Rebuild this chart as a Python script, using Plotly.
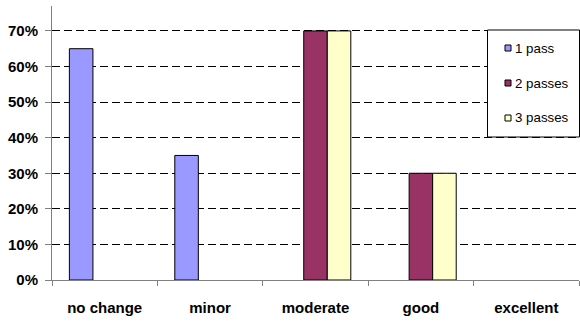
import plotly.graph_objects as go

categories = ["no change", "minor", "moderate", "good", "excellent"]
series_names = ["1 pass", "2 passes", "3 passes"]
pass1 = [0.65, 0.35, None, None, None]
pass2 = [None, None, 0.70, 0.30, None]
pass3 = [None, None, 0.70, 0.30, None]
colors = ["#9999FF", "#993366", "#FFFFCC"]
y_ticks = [0, 0.1, 0.2, 0.3, 0.4, 0.5, 0.6, 0.7]

W, H = 580, 322
ML, MR, MT, MB = 52, 1, 6, 42
PW, PH = W - ML - MR, H - MT - MB


def px_x(x):
    return (x - ML) / PW


def px_y(y):
    return (H - MB - y) / PH


fig = go.Figure()
for name, vals, col in zip(series_names, [pass1, pass2, pass3], colors):
    fig.add_trace(go.Bar(
        x=categories, y=vals, name=name, showlegend=False,
        marker=dict(color=col, line=dict(color="black", width=1)),
    ))

font = "Liberation Sans, Arial, sans-serif"

# Boxed key on the right with small square swatches
shapes = [dict(type="rect", xref="paper", yref="paper",
               x0=px_x(487.5), x1=px_x(579.5), y0=px_y(137), y1=px_y(30),
               line=dict(color="black", width=1), fillcolor="white", layer="above")]
annotations = []
for i, (name, col) in enumerate(zip(series_names, colors)):
    cy = 48 + 35 * i
    shapes.append(dict(type="rect", xref="paper", yref="paper",
                       x0=px_x(505), x1=px_x(511), y0=px_y(cy + 3), y1=px_y(cy - 3),
                       line=dict(color="black", width=1), fillcolor=col, layer="above"))
    annotations.append(dict(xref="paper", yref="paper", x=px_x(513), y=px_y(cy),
                            xanchor="left", yanchor="middle", showarrow=False,
                            text=name, font=dict(family=font, size=13.3, color="black")))

fig.update_layout(
    width=W, height=H,
    margin=dict(l=ML, r=MR, t=MT, b=MB),
    paper_bgcolor="white", plot_bgcolor="white",
    barmode="group", bargap=0.33, bargroupgap=0,
    font=dict(family=font, size=12, color="black"),
    showlegend=False,
    shapes=shapes, annotations=annotations,
    xaxis=dict(
        type="category", tickson="boundaries", ticks="outside", ticklen=5,
        tickcolor="#808080", showline=True, linecolor="#808080", linewidth=1,
        showgrid=False, tickfont=dict(family=font, size=15, color="black", weight="bold"),
        ticklabelstandoff=14,
    ),
    yaxis=dict(
        range=[0, 0.77], tickvals=y_ticks, tickformat=".0%",
        ticks="outside", ticklen=6, tickcolor="#808080",
        showline=True, linecolor="#808080", linewidth=1,
        showgrid=True, gridcolor="black", griddash="8px,4px", gridwidth=1,
        zeroline=False,
        tickfont=dict(family=font, size=15, color="black", weight="bold"),
        ticklabelstandoff=4,
    ),
)

fig.write_html("out.html")
